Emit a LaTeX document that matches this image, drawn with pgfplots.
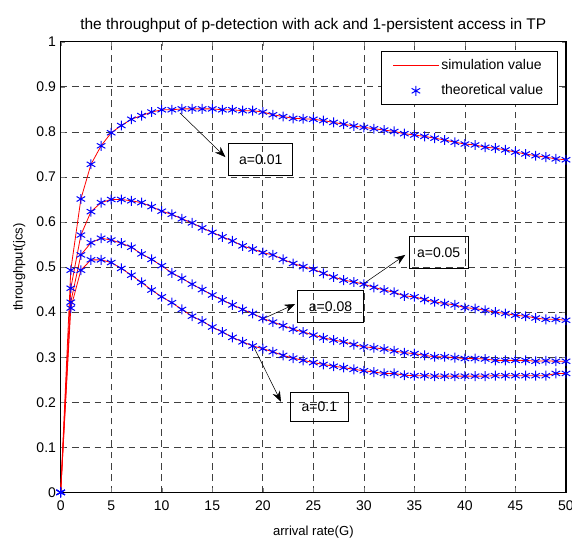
\documentclass[border=0pt]{standalone}
\usepackage{fontspec}
\setmainfont{Liberation Sans}
\usepackage{pgfplots}
\usepackage{pgfplotstable}
\pgfplotsset{compat=1.18}
\usetikzlibrary{arrows.meta}

% throughput vs arrival rate, one column per value of a
\pgfplotstableread{
x  a1    a5    a8    a10
0  0     0     0     0
1  0.493 0.453 0.422 0.409
2  0.651 0.571 0.527 0.493
3  0.728 0.623 0.554 0.516
4  0.769 0.643 0.564 0.516
5  0.798 0.650 0.560 0.510
6  0.814 0.650 0.553 0.497
7  0.828 0.647 0.544 0.482
8  0.836 0.643 0.529 0.466
9  0.844 0.634 0.517 0.449
10 0.849 0.624 0.503 0.434
11 0.849 0.617 0.487 0.421
12 0.851 0.607 0.475 0.406
13 0.851 0.598 0.462 0.391
14 0.851 0.587 0.450 0.380
15 0.851 0.577 0.438 0.367
16 0.849 0.567 0.427 0.356
17 0.849 0.558 0.416 0.344
18 0.847 0.547 0.406 0.334
19 0.847 0.540 0.397 0.325
20 0.844 0.532 0.386 0.319
21 0.838 0.527 0.378 0.312
22 0.834 0.517 0.370 0.304
23 0.830 0.508 0.362 0.298
24 0.829 0.501 0.356 0.293
25 0.828 0.495 0.349 0.288
26 0.825 0.486 0.343 0.284
27 0.821 0.478 0.338 0.280
28 0.817 0.471 0.334 0.277
29 0.813 0.467 0.328 0.273
30 0.810 0.462 0.323 0.270
31 0.807 0.455 0.321 0.267
32 0.804 0.449 0.318 0.264
33 0.801 0.444 0.314 0.264
34 0.796 0.436 0.310 0.260
35 0.793 0.434 0.308 0.259
36 0.790 0.428 0.304 0.259
37 0.786 0.423 0.301 0.258
38 0.782 0.419 0.301 0.258
39 0.777 0.416 0.299 0.258
40 0.773 0.410 0.297 0.258
41 0.771 0.408 0.297 0.258
42 0.766 0.404 0.296 0.258
43 0.764 0.400 0.293 0.259
44 0.760 0.397 0.293 0.259
45 0.755 0.393 0.293 0.259
46 0.751 0.391 0.293 0.259
47 0.747 0.387 0.291 0.259
48 0.744 0.384 0.292 0.259
49 0.740 0.384 0.291 0.264
50 0.738 0.382 0.291 0.264
}\thr

\begin{document}
\begin{tikzpicture}
\begin{axis}[
  scale only axis, width=379pt, height=338pt,
  xmin=0, xmax=50, ymin=0, ymax=1,
  xtick={0,5,...,50},
  ytick={0,0.1,0.2,0.3,0.4,0.5,0.6,0.7,0.8,0.9,1},
  yticklabels={0,0.1,0.2,0.3,0.4,0.5,0.6,0.7,0.8,0.9,1},
  tick align=inside, tick pos=both,
  major tick length=3pt,
  ticklabel style={font=\fontsize{10.5}{12}\selectfont},
  xticklabel style={yshift=-2.5pt},
  /pgf/number format/assume math mode=true,
  axis line style={line width=0.8pt},
  grid=major,
  major grid style={black!75, line width=0.5pt, dash pattern=on 5pt off 3.5pt},
  title={the throughput of p-detection with ack and 1-persistent access in TP},
  title style={font=\fontsize{11.6}{13}\selectfont, yshift=-2.5pt},
  xlabel={arrival rate(G)},
  ylabel={throughput(jcs)},
  label style={font=\fontsize{9.8}{11}\selectfont},
  xlabel style={yshift=-5pt},
  ylabel style={yshift=1.5pt},
  legend style={at={(rel axis cs:0.985,0.98)}, anchor=north east,
    line width=0.8pt, font=\fontsize{10.5}{12}\selectfont,
    inner xsep=9pt, inner ysep=4pt, row sep=6pt},
  legend cell align=left,
]
\addlegendimage{legend image code/.code={
  \path[draw=none] (0pt,0pt) -- (34pt,0pt);
  \path[draw=none] plot[mark=-, mark size=17pt,
    mark options={draw=red, line width=0.7pt}] coordinates {(17pt,0pt)};}}
\addlegendentry{simulation value}
\addlegendimage{legend image code/.code={
  \path[draw=none] (0pt,0pt) -- (34pt,0pt);
  \path[draw=none] plot[mark=asterisk, mark size=3.7pt,
    mark options={draw=blue, line width=0.75pt}] coordinates {(17pt,0pt)};}}
\addlegendentry{theoretical value}
\addplot[red, line width=0.6pt, forget plot] table[x=x,y=a1] {\thr};
\addplot[red, line width=0.6pt, forget plot] table[x=x,y=a5] {\thr};
\addplot[red, line width=0.6pt, forget plot] table[x=x,y=a8] {\thr};
\addplot[red, line width=0.6pt, forget plot] table[x=x,y=a10] {\thr};
\addplot[only marks, blue, mark=asterisk, mark size=3.7pt,
  mark options={line width=0.75pt}, forget plot] table[x=x,y=a1] {\thr};
\addplot[only marks, blue, mark=asterisk, mark size=3.7pt,
  mark options={line width=0.75pt}, forget plot] table[x=x,y=a5] {\thr};
\addplot[only marks, blue, mark=asterisk, mark size=3.7pt,
  mark options={line width=0.75pt}, forget plot] table[x=x,y=a8] {\thr};
\addplot[only marks, blue, mark=asterisk, mark size=3.7pt,
  mark options={line width=0.75pt}, forget plot] table[x=x,y=a10] {\thr};

% annotations
\draw[-{Stealth[length=8pt,width=6pt]}, line width=0.4pt]
  (axis cs:11.8,0.842) -- (axis cs:16.3,0.744);
\node[draw, line width=0.6pt, minimum width=48pt, minimum height=24pt,
  font=\fontsize{10.5}{12}\selectfont] at (axis cs:19.8,0.739) {a=0.01};
\draw[-{Stealth[length=8pt,width=6pt]}, line width=0.4pt]
  (axis cs:29.9,0.462) -- (axis cs:34.1,0.527);
\node[draw, line width=0.6pt, minimum width=44pt, minimum height=24pt,
  font=\fontsize{10.5}{12}\selectfont] at (axis cs:37.4,0.532) {a=0.05};
\draw[-{Stealth[length=8pt,width=6pt]}, line width=0.4pt]
  (axis cs:20.1,0.386) -- (axis cs:23.2,0.418);
\node[draw, line width=0.6pt, minimum width=49pt, minimum height=24pt,
  font=\fontsize{10.5}{12}\selectfont] at (axis cs:26.7,0.413) {a=0.08};
\draw[-{Stealth[length=8pt,width=6pt]}, line width=0.4pt]
  (axis cs:19.1,0.323) -- (axis cs:21.8,0.201);
\node[draw, line width=0.6pt, minimum width=43pt, minimum height=22pt,
  font=\fontsize{10.5}{12}\selectfont] at (axis cs:25.6,0.190) {a=0.1};
\end{axis}
% page margins as in the reference
\pgfresetboundingbox
\useasboundingbox ([xshift=-45.5pt,yshift=-35.3pt]current axis.south west)
  rectangle ([xshift=4.5pt,yshift=31.3pt]current axis.north east);
\end{tikzpicture}
\end{document}
